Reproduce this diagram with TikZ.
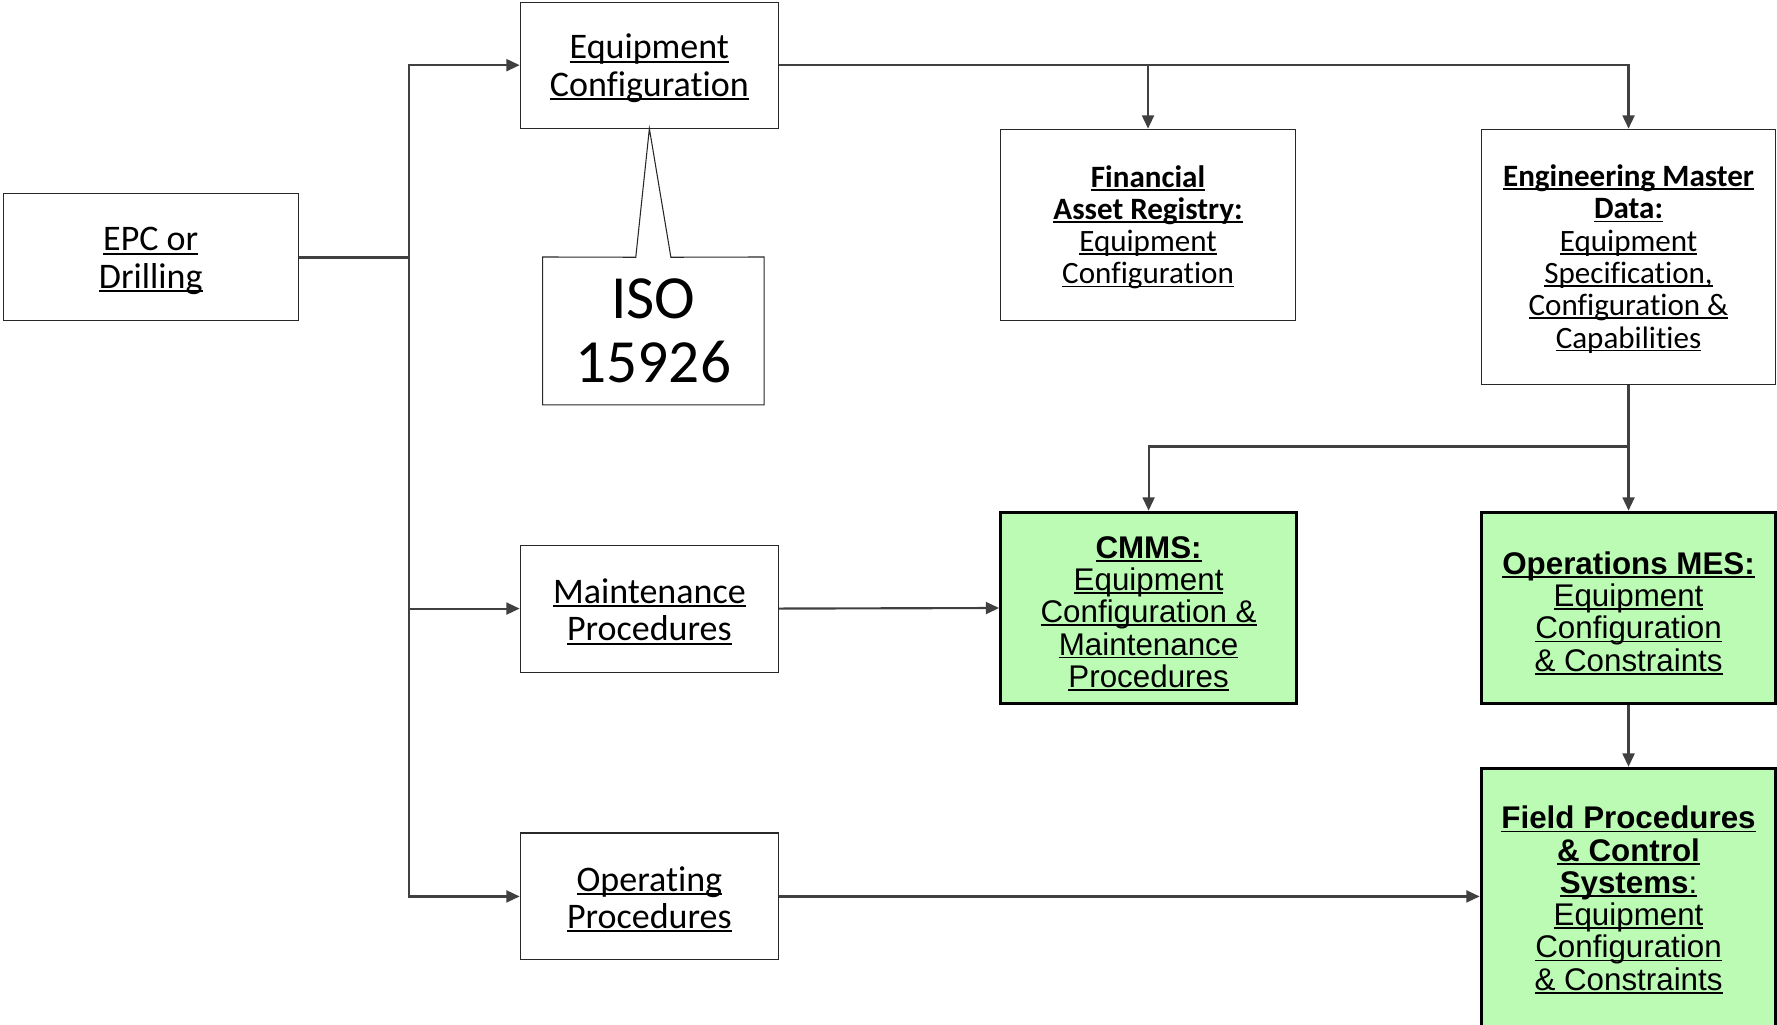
\documentclass[tikz,border=0pt]{standalone}
\usepackage{fontspec}
\setmainfont[Ligatures=NoCommon]{Carlito}
\newfontfamily\arialf{Liberation Sans}
\usetikzlibrary{arrows.meta}
\definecolor{grn}{RGB}{187,251,180}
\definecolor{lnc}{RGB}{64,64,64}
\definecolor{bdr}{RGB}{40,40,40}
\newcommand\uln[1]{\setbox0\hbox{#1}\rlap{\rule[-0.11em]{\wd0}{0.055em}}\box0}
\newcommand\tstrut{\rule{0pt}{1.05em}}
\newcommand\wstrut{\rule{0pt}{0.85em}}
\begin{document}
\begin{tikzpicture}[x=0.85pt,y=-0.85pt,
 wbox/.style={draw=bdr, line width=0.8pt, fill=white, align=center, inner sep=0pt},
 gbox/.style={draw=black, line width=2.4pt, fill=grn, align=center, inner sep=0pt, font=\arialf\fontsize{23.5}{24.2}\selectfont},
 bigtxt/.style={font=\fontsize{27}{28}\selectfont},
 medtxt/.style={font=\fontsize{23.3}{24.2}\selectfont},
 conn/.style={draw=lnc, line width=1.6pt},
 arr/.style={conn, -{Triangle[length=10pt,width=9pt]}}]
\useasboundingbox (0,0) rectangle (1568,904);

\node[wbox, bigtxt, minimum width=221pt, minimum height=95.2pt] (epc) at (133,227) {\wstrut\uln{EPC or}\\\uln{Drilling}};
\node[wbox, bigtxt, minimum width=193.8pt, minimum height=94.35pt] (eq) at (573,57.5) {\wstrut\uln{Equipment}\\\uln{Configuration}};
\node[align=center, inner sep=0pt, minimum width=165.75pt, minimum height=110.5pt, font=\fontsize{46}{48.5}\selectfont] (iso) at (576.5,292) {ISO\\15926};
\draw[draw=bdr, line width=0.8pt, fill=white] (iso.north west) -- (561,227) -- (eq.south) -- (592,227) -- (iso.north east) -- (iso.south east) -- (iso.south west) -- cycle;
\node[align=center, inner sep=0pt, font=\fontsize{46}{48.5}\selectfont] at (iso.center) {ISO\\15926};

\node[wbox, medtxt, minimum width=221pt, minimum height=143.65pt] (fin) at (1013,198.5) {\wstrut\uln{\bfseries Financial}\\\uln{\bfseries Asset Registry:}\\\uln{Equipment}\\\uln{Configuration}};
\node[wbox, medtxt, minimum width=221pt, minimum height=191.25pt] (eng) at (1437,226.5) {\wstrut\uln{\bfseries Engineering Master}\\\uln{\bfseries Data:}\\\uln{Equipment}\\\uln{Specification,}\\\uln{Configuration \&}\\\uln{Capabilities}};
\node[wbox, bigtxt, minimum width=193.8pt, minimum height=95.2pt] (mnt) at (573,537) {\wstrut\uln{Maintenance}\\\uln{Procedures}};
\node[wbox, bigtxt, minimum width=193.8pt, minimum height=95.2pt] (opr) at (573,791) {\wstrut\uln{Operating}\\\uln{Procedures}};
\node[gbox, minimum width=221.85pt, minimum height=143.65pt] (cmms) at (1013.5,536.5) {\tstrut\uln{\bfseries CMMS:}\\\uln{Equipment}\\\uln{Configuration \&}\\\uln{Maintenance}\\\uln{Procedures}};
\node[gbox, minimum width=221pt, minimum height=143.65pt] (mes) at (1437,536.5) {\tstrut\uln{\bfseries Operations MES:}\\\uln{Equipment}\\\uln{Configuration}\\\uln{\& Constraints}};
\node[gbox, minimum width=221pt, minimum height=197.2pt] (fld) at (1437,794) {\uln{\bfseries Field Procedures}\\\uln{\bfseries \& Control}\\\uln{\bfseries Systems}\uln{:}\\\uln{Equipment}\\\uln{Configuration}\\\uln{\& Constraints}};

\coordinate (bus) at (361,227);
\coordinate (j) at (1437,394);
\draw[conn, line width=2.4pt] (epc.east) -- (bus);
\draw[arr] (bus) |- (eq.west);
\draw[arr] (bus) |- (mnt.west);
\draw[arr] (bus) |- (opr.west);
\draw[arr] (eq.east) -| (eng.north);
\draw[arr] (fin.north |- eq.east) -- (fin.north);
\draw[arr] (eng.south) -- (mes.north);
\draw[arr] (j) -| (cmms.north);
\draw[arr] (mnt.east) -- (cmms.west);
\draw[arr] (opr.east) -- (opr.east -| fld.west);
\draw[arr] (mes.south) -- (fld.north);
\end{tikzpicture}
\end{document}
